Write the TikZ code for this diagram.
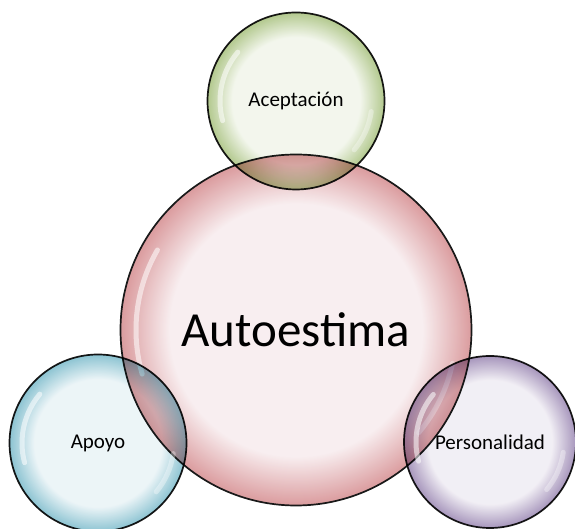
\documentclass[tikz,border=0pt]{standalone}
\usepackage{fontspec}
\setmainfont{Carlito}
\usepackage{xcolor}
\definecolor{rosein}{HTML}{F7EBED}
\definecolor{roseout}{HTML}{D48A8D}
\definecolor{greenin}{HTML}{F1F5EA}
\definecolor{greenout}{HTML}{A5BF7A}
\definecolor{bluein}{HTML}{E9F3F6}
\definecolor{blueout}{HTML}{78B9CA}
\definecolor{lilacin}{HTML}{EFECF3}
\definecolor{lilacout}{HTML}{9783B0}
\colorlet{bubin}{white}
\colorlet{bubout}{gray}
\pgfdeclareradialshading[bubin,bubout]{bubble}{\pgfpoint{0bp}{0bp}}{color(0bp)=(bubin); color(18bp)=(bubin); color(25bp)=(bubout); color(50bp)=(bubout)}

\begin{document}
\begin{tikzpicture}[x=1pt, y=1pt,
    bubble/.style 2 args={circle, draw=black!90, line width=1.7pt, shade, shading=bubble,
                          /utils/exec={\colorlet{bubin}{#1}\colorlet{bubout}{#2}},
                          fill opacity=0.85, text opacity=1, inner sep=0pt},
    small/.style={blend mode=multiply, minimum size=177pt, font=\fontsize{21}{25}\selectfont},
    gloss/.style={white, line width=5pt, line cap=round, opacity=0.55}
  ]
  \useasboundingbox (0,0) rectangle (575,529);
  % centre
  \node[bubble={rosein}{roseout}, minimum size=351pt, font=\fontsize{49}{58}\selectfont] (auto) at (296,199) {Autoestima};
  \draw[gloss] (auto.center) ++(150:160) arc[start angle=150, end angle=196, radius=160];
  \draw[gloss, opacity=0.35] (auto.center) ++(-40:160) arc[start angle=-40, end angle=-12, radius=160];
  % outer bubbles
  \node[bubble={greenin}{greenout}, small] (acep) at (296,428) {Aceptación};
  \draw[gloss] (acep.center) ++(140:76) arc[start angle=140, end angle=195, radius=76];
  \draw[gloss, opacity=0.35] (acep.center) ++(-40:76) arc[start angle=-40, end angle=-8, radius=76];
  \node[bubble={bluein}{blueout}, small] (apoyo) at (98,86) {Apoyo};
  \draw[gloss] (apoyo.center) ++(140:76) arc[start angle=140, end angle=195, radius=76];
  \draw[gloss, opacity=0.35] (apoyo.center) ++(-40:76) arc[start angle=-40, end angle=-8, radius=76];
  \node[bubble={lilacin}{lilacout}, small, minimum size=172pt] (pers) at (490,87) {Personalidad};
  \draw[gloss] (pers.center) ++(140:74) arc[start angle=140, end angle=195, radius=74];
  \draw[gloss, opacity=0.35] (pers.center) ++(-40:74) arc[start angle=-40, end angle=-8, radius=74];
\end{tikzpicture}
\end{document}
